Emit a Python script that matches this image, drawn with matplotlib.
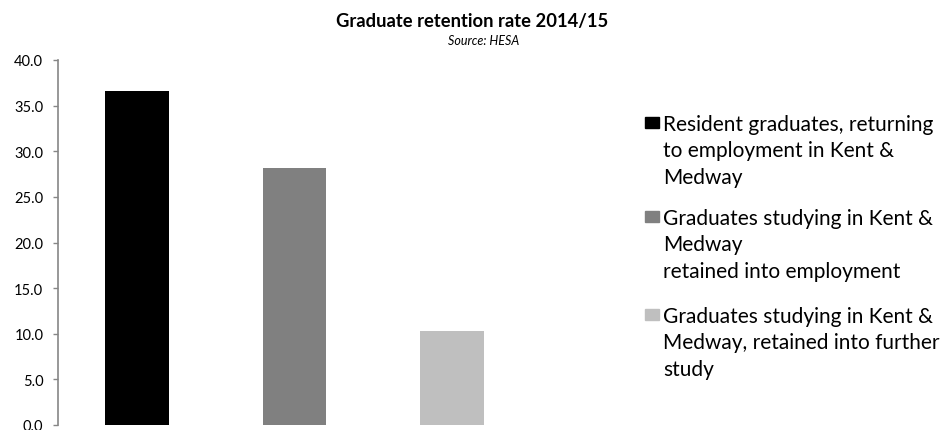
import numpy as np
import matplotlib
matplotlib.use("Agg")
import matplotlib.pyplot as plt
from matplotlib.patches import Rectangle
from matplotlib.ticker import FormatStrFormatter

# data
series_labels = [
    "Resident graduates, returning\nto employment in Kent &\nMedway",
    "Graduates studying in Kent &\nMedway\nretained into employment",
    "Graduates studying in Kent &\nMedway, retained into further\nstudy",
]
values = [36.6, 28.2, 10.3]
colors = ["#000000", "#808080", "#BFBFBF"]
title = "Graduate retention rate 2014/15"
subtitle = "Source: HESA"
y_ticks = [0, 5, 10, 15, 20, 25, 30, 35, 40]

plt.rcParams['font.family'] = ['Lato', 'DejaVu Sans']

W, H = 943, 431
fig = plt.figure(figsize=(W / 100, H / 100), dpi=100)


def fx(px):
    return px / W


def fy(py):
    return 1 - py / H


ax = fig.add_axes([fx(58), fy(426), (531 - 58) / W, (426 - 61) / H])
x = np.arange(len(values))
ax.bar(x, values, width=0.405, color=colors)
ax.set_xlim(-0.5, 2.5)
ax.set_ylim(0, 40)
ax.set_yticks(y_ticks)
ax.yaxis.set_major_formatter(FormatStrFormatter('%.1f'))
ax.set_xticks([])
for side in ['top', 'right', 'bottom']:
    ax.spines[side].set_visible(False)
ax.spines['left'].set_color('#868686')
ax.spines['left'].set_linewidth(1.2)
ax.tick_params(axis='y', length=3.6, width=1.0, color='#868686', labelsize=10.5,
               pad=7, labelcolor='#000000')

# title and source line
fig.text(fx(472), fy(27), title, ha='center', va='baseline',
         fontsize=13.2, fontweight='bold')
fig.text(fx(484), fy(45), subtitle, ha='center', va='baseline',
         fontsize=9, style='italic')

# legend drawn by hand, Excel style (square beside first line)
first_baselines = [131, 225, 323]
line_step = 26.3
for lab, col, b0 in zip(series_labels, colors, first_baselines):
    fig.patches.append(Rectangle((fx(645), fy(b0 - 2)), 14 / W, 11 / H,
                                 transform=fig.transFigure, color=col))
    for k, line in enumerate(lab.split("\n")):
        fig.text(fx(663), fy(b0 + k * line_step), line, ha='left',
                 va='baseline', fontsize=15)

fig.savefig("out.png", dpi=100)
